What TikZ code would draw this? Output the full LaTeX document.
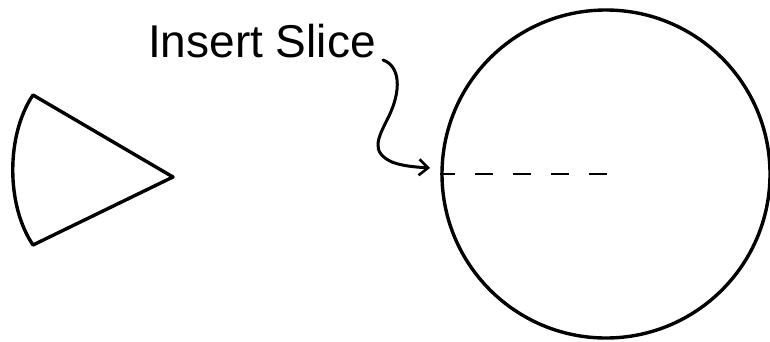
\documentclass[tikz,border=0pt]{standalone}
\usepackage{fontspec}
\setmainfont{Liberation Sans}
\usetikzlibrary{arrows.meta}
\begin{document}
\begin{tikzpicture}[x=1pt,y=-1pt,
  shape line/.style={line width=3.4pt, line join=round, line cap=round, black},
  slice line/.style={line width=2.4pt, dash pattern=on 18pt off 20pt, dash phase=3pt},
  pointer/.style={line width=3pt, line cap=round, -{Straight Barb[length=9pt,width=16pt,line width=2.6pt]}},
  label text/.style={font=\fontsize{46}{50}\selectfont, inner sep=0pt, anchor=base west}]
\useasboundingbox (0,0) rectangle (770,341);
% wedge
\coordinate (wtop) at (33,95);
\coordinate (wtip) at (173,177);
\coordinate (wbot) at (33,245);
\draw[shape line] (wtop) -- (wtip) -- (wbot) .. controls (6,205) and (6,135) .. (wtop) -- cycle;
% circle
\node[shape line, circle, draw, minimum size=328pt, inner sep=0pt] (pie) at (606,174) {};
\coordinate (centre) at (610,174);
\draw[slice line] (pie.west) -- (centre);
% label
\node[label text] (lbl) at (148,57) {Insert Slice};
\coordinate (start) at (383,60);
\coordinate (tip) at (430,168);
\draw[pointer] (start) .. controls (400,66) and (402,90) .. (388,118)
  .. controls (378,138) and (370,152) .. (392,162)
  .. controls (402,166) and (415,167) .. (tip);
\end{tikzpicture}
\end{document}
